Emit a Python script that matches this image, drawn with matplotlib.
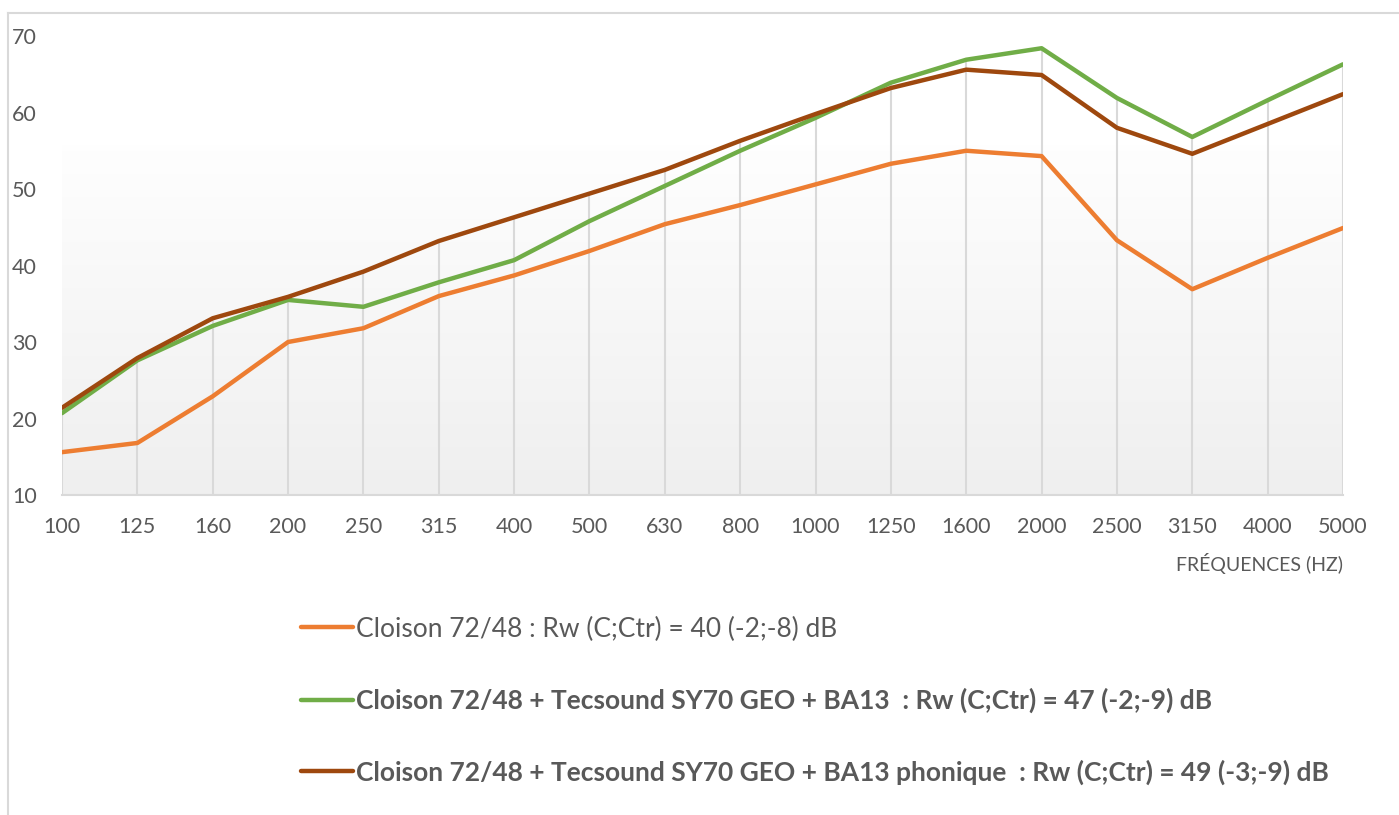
import numpy as np
import matplotlib
matplotlib.use("Agg")
import matplotlib.pyplot as plt
from matplotlib.lines import Line2D

categories = ["100", "125", "160", "200", "250", "315", "400", "500", "630", "800",
              "1000", "1250", "1600", "2000", "2500", "3150", "4000", "5000"]
cloison = [15.6, 16.8, 22.9, 30.0, 31.8, 36.0, 38.7, 41.9, 45.4, 47.9,
           50.6, 53.3, 55.0, 54.3, 43.3, 36.9, 41.0, 44.9]
sy70_ba13 = [20.7, 27.6, 32.1, 35.5, 34.6, 37.8, 40.7, 45.8, 50.4, 55.0,
             59.3, 63.9, 66.9, 68.4, 61.9, 56.8, 61.6, 66.3]
sy70_phonique = [21.4, 27.9, 33.1, 35.9, 39.2, 43.2, 46.3, 49.4, 52.5, 56.3,
                 59.8, 63.2, 65.6, 64.9, 58.0, 54.6, 58.5, 62.4]
labels = ["Cloison 72/48 : Rw (C;Ctr) = 40 (-2;-8) dB",
          "Cloison 72/48 + Tecsound SY70 GEO + BA13  : Rw (C;Ctr) = 47 (-2;-9) dB",
          "Cloison 72/48 + Tecsound SY70 GEO + BA13 phonique  : Rw (C;Ctr) = 49 (-3;-9) dB"]
colors = ["#ED7D31", "#70AD47", "#9E480E"]
yticks = [10, 20, 30, 40, 50, 60, 70]

plt.rcParams['font.family'] = ['Lato', 'DejaVu Sans']
text_color = "#595959"

fig = plt.figure(figsize=(13.99, 8.15), dpi=100)
ax = fig.add_axes([62/1399, 1-495/815, (1343-62)/1399, (495-36)/815])

x = np.arange(len(categories))
ax.set_xlim(0, len(categories)-1)
ax.set_ylim(10, 70)

# gradient plot-area fill
grad = np.linspace(0, 1, 256).reshape(-1, 1)
top = np.array([0.997, 0.997, 0.997])
bot = np.array([0.937, 0.937, 0.937])
img = top + (bot - top) * grad
img = np.repeat(img[:, None, :], 2, axis=1).reshape(256, 2, 3)
ax.imshow(img, extent=[0, len(categories)-1, 10, 55.7], aspect='auto', zorder=0)

# drop lines from the highest series point
series = [cloison, sy70_ba13, sy70_phonique]
tops = np.max(np.array(series), axis=0)
ax.vlines(x, 10, tops, colors="#d9d9d9", linewidth=1.5, zorder=1)

handles = []
for s, c, lab in zip(series, colors, labels):
    h, = ax.plot(x, s, color=c, linewidth=3.2, label=lab, zorder=3,
                 solid_joinstyle='round', solid_capstyle='round')
    handles.append(h)

for sp in ["top", "right", "left"]:
    ax.spines[sp].set_visible(False)
ax.spines["bottom"].set_color("#d9d9d9")
ax.spines["bottom"].set_linewidth(1.5)

ax.set_xticks(x)
ax.set_xticklabels(categories)
ax.set_yticks(yticks)
ax.tick_params(axis='both', length=0, labelsize=15.5, colors=text_color)
ax.tick_params(axis='x', pad=16)
ax.tick_params(axis='y', pad=18)
ax.set_xlabel("FRÉQUENCES (HZ)", loc='right', fontsize=14, color=text_color, labelpad=11)

leg = fig.legend(handles=handles, labels=labels, loc='upper left',
                 bbox_to_anchor=(290/1399, 1-606/815), frameon=False,
                 fontsize=19.0, labelspacing=1.75, handlelength=2.0,
                 handletextpad=0.12, borderaxespad=0)
for i, t in enumerate(leg.get_texts()):
    t.set_color(text_color)
    if i > 0:
        t.set_fontweight('bold')

# outer chart border (top and left visible)
fig.add_artist(Line2D([8/1399, 1], [1-13/815, 1-13/815], color="#d9d9d9", linewidth=1.5))
fig.add_artist(Line2D([8/1399, 8/1399], [0, 1-13/815], color="#d9d9d9", linewidth=1.5))

fig.savefig("out.png", dpi=100, facecolor="white")
